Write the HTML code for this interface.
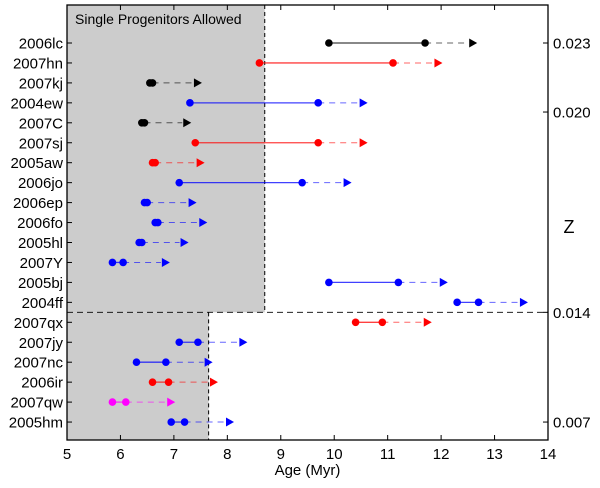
<!DOCTYPE html>
<html><head><meta charset="utf-8"><style>
body{margin:0;background:#fff;}
svg text{font-family:"Liberation Sans",sans-serif;}
</style></head><body>
<svg id="chart" width="600" height="483" xmlns="http://www.w3.org/2000/svg"></svg>
<script>
const names=["2006lc","2007hn","2007kj","2004ew","2007C","2007sj","2005aw","2006jo","2006ep","2006fo","2005hl","2007Y","2005bj","2004ff","2007qx","2007jy","2007nc","2006ir","2007qw","2005hm"];
const startAge=[9.9,8.6,6.55,7.3,6.4,7.4,6.6,7.1,6.45,6.65,6.35,5.85,9.9,12.3,10.4,7.1,6.3,6.6,5.85,6.95];
const endAge=[11.7,11.1,6.6,9.7,6.45,9.7,6.65,9.4,6.5,6.7,6.4,6.05,11.2,12.7,10.9,7.45,6.85,6.9,6.1,7.2];
const arrowAge=[12.6,11.95,7.45,10.55,7.25,10.55,7.5,10.25,7.35,7.55,7.2,6.85,12.05,13.55,11.75,8.3,7.65,7.75,6.95,8.05];
const colors=["#000","#f00","#000","#00f","#000","#f00","#f00","#00f","#00f","#00f","#00f","#00f","#00f","#00f","#f00","#00f","#00f","#f00","#f0f","#00f"];
const xTicks=[5,6,7,8,9,10,11,12,13,14];
const zLabels=["0.023","0.020","0.014","0.007"];
const zRows=[0,3.46,13.5,19];
const limitUpper=8.7, limitLower=7.65;

const L=67,R=548,T=5,B=440;
const X=v=>L+(v-5)*(R-L)/9;
const Y=i=>43+i*19.95;
const svg=document.getElementById('chart');
const NS="http://www.w3.org/2000/svg";
function mk(tag,attrs,parent){const e=document.createElementNS(NS,tag);for(const k in attrs)e.setAttribute(k,attrs[k]);(parent||svg).appendChild(e);return e;}
const splitY=(Y(13)+Y(14))/2;
let e;
e=mk('rect',{x:L,y:T,width:X(limitUpper)-L,height:splitY-T,fill:'#cccccc'});


e=mk('rect',{x:L,y:splitY,width:X(limitLower)-L,height:B-splitY,fill:'#cccccc'});


mk('line',{x1:X(limitUpper),x2:X(limitUpper),y1:T,y2:splitY,stroke:'#000','stroke-dasharray':'4,3'});
mk('line',{x1:X(limitLower),x2:X(limitLower),y1:splitY,y2:B,stroke:'#000','stroke-dasharray':'4,3'});
mk('line',{x1:L,x2:R,y1:splitY,y2:splitY,stroke:'#000','stroke-dasharray':'6,4','stroke-width':0.8});
e=mk('text',{x:X(5.15),y:24,'font-size':14});
e.textContent='Single Progenitors Allowed';



names.forEach((n,i)=>{
  const y=Y(i),c=colors[i];
  const g=mk('g',{});
  
  
  mk('line',{x1:X(startAge[i]),x2:X(endAge[i]),y1:y,y2:y,stroke:c,'stroke-width':1.3,'stroke-opacity':0.75},g);
  mk('line',{x1:X(endAge[i]),x2:X(arrowAge[i])-5,y1:y,y2:y,stroke:c,'stroke-width':1,'stroke-dasharray':'6,5','stroke-opacity':0.6},g);
  mk('circle',{cx:X(startAge[i]),cy:y,r:3.8,fill:c},g);
  mk('circle',{cx:X(endAge[i]),cy:y,r:3.8,fill:c},g);
  const ax=X(arrowAge[i]);
  mk('polygon',{points:`${ax-4},${y-4.5} ${ax+4},${y} ${ax-4},${y+4.5}`,fill:c},g);
  const t=mk('text',{x:L-4,y:y+5.5,'font-size':15,'text-anchor':'end'});
  t.textContent=n;
  
  
  mk('line',{x1:L,x2:L+5,y1:y,y2:y,stroke:'#000'});
});
xTicks.forEach(v=>{
  const x=X(v);
  mk('line',{x1:x,x2:x,y1:B,y2:B-5,stroke:'#000'});
  mk('line',{x1:x,x2:x,y1:T,y2:T+5,stroke:'#000'});
  const t=mk('text',{x:x,y:B+19,'font-size':15,'text-anchor':'middle'});
  t.textContent=v;
  
  
});
zLabels.forEach((z,k)=>{
  const y=Y(zRows[k]);
  mk('line',{x1:R,x2:R-5,y1:y,y2:y,stroke:'#000'});
  const t=mk('text',{x:R+5,y:y+5.5,'font-size':15});
  t.textContent=z;
  
  
});
e=mk('rect',{x:L,y:T,width:R-L,height:B-T,fill:'none',stroke:'#000','stroke-width':1.3});


e=mk('text',{x:X(9.5),y:475,'font-size':15,'text-anchor':'middle'});
e.textContent='Age (Myr)';


e=mk('text',{x:569,y:233,'font-size':18,'text-anchor':'middle'});
e.textContent='Z';


</script>
</body></html>
